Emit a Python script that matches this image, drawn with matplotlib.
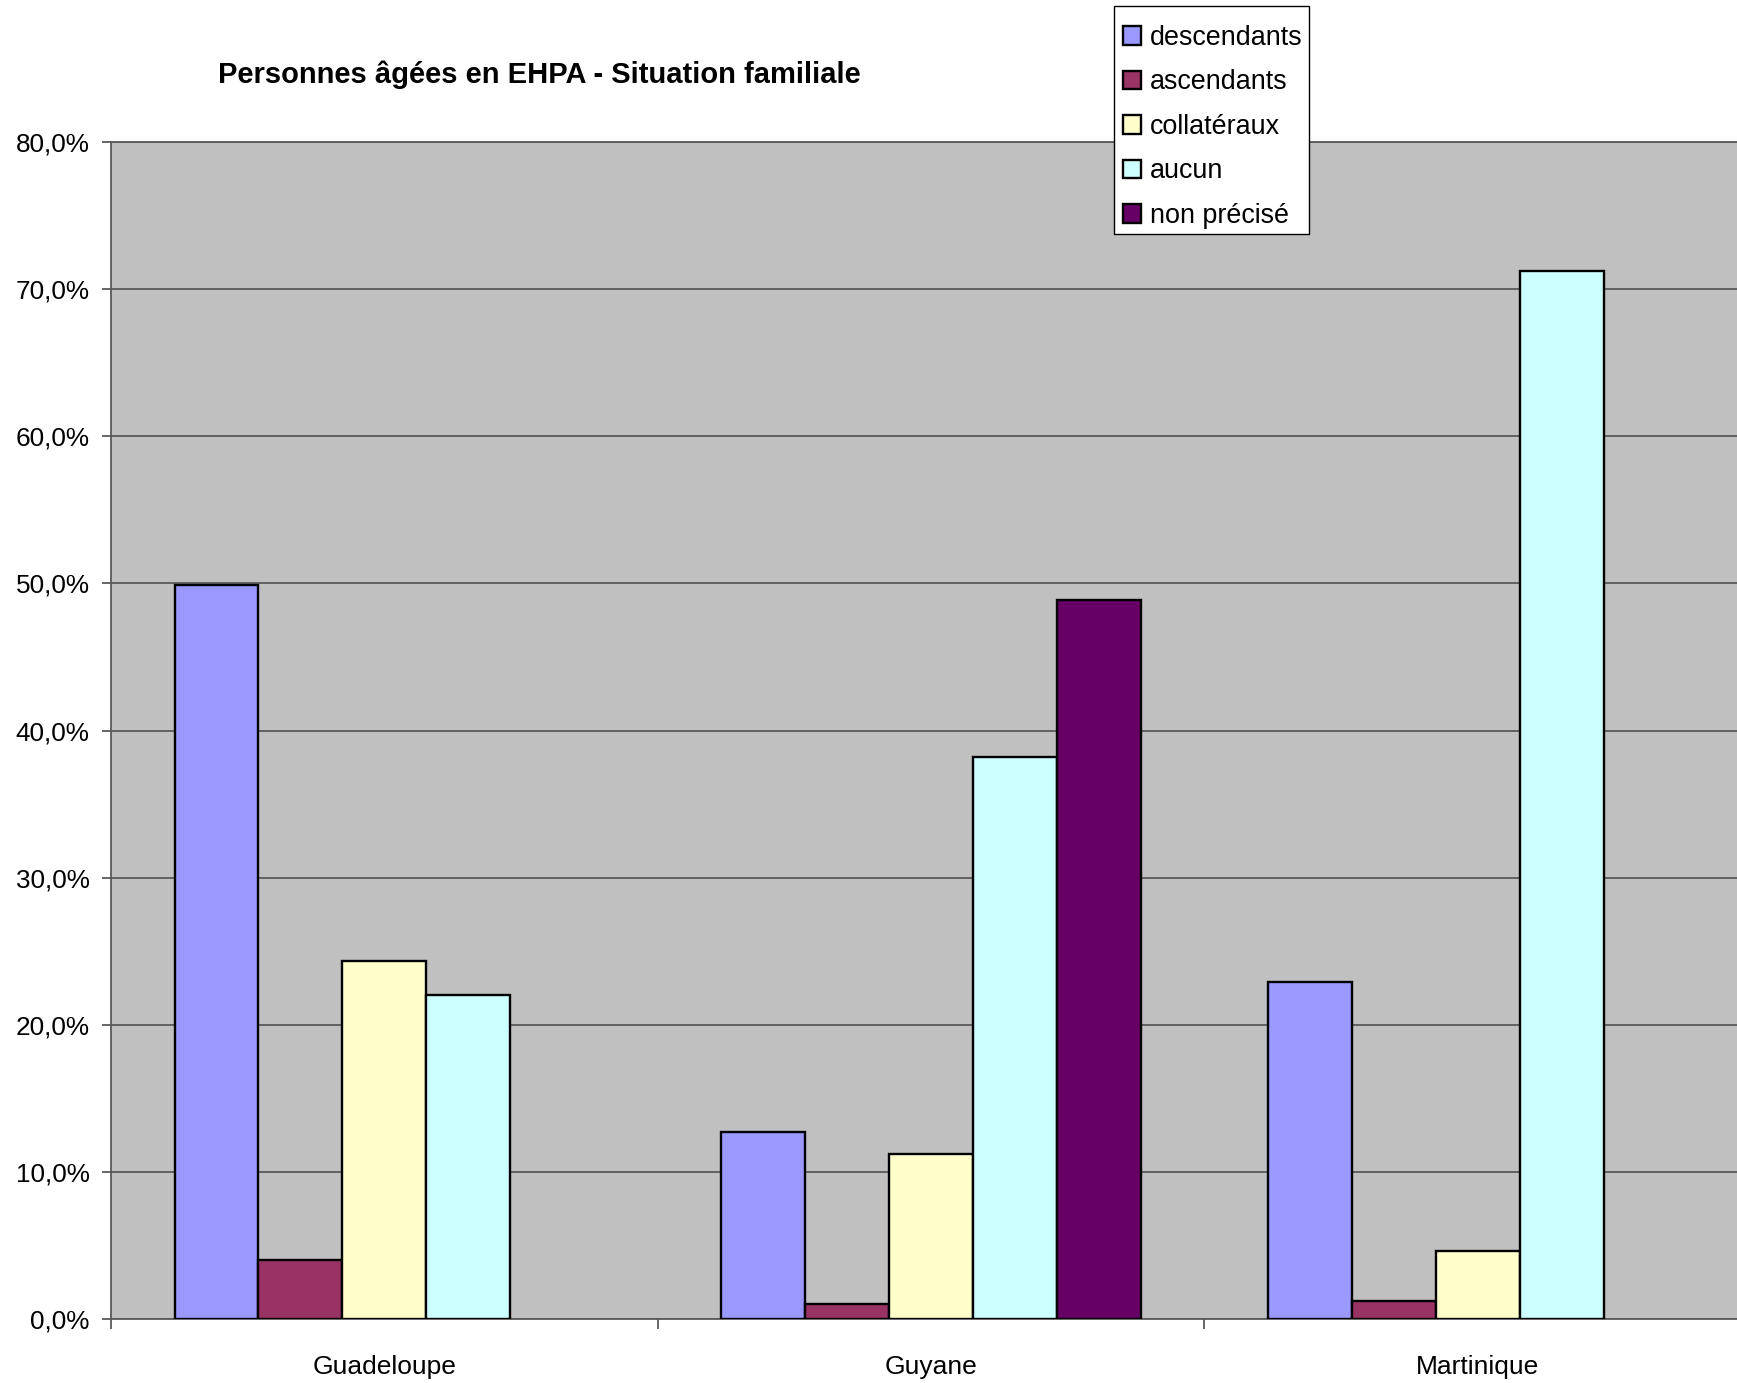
import numpy as np
import matplotlib.pyplot as plt
from matplotlib.patches import Rectangle
from matplotlib.ticker import FixedLocator, FuncFormatter

plt.rcParams['font.family'] = ['Liberation Sans', 'DejaVu Sans']

regions = ["Guadeloupe", "Guyane", "Martinique"]
series_names = ["descendants", "ascendants", "collatéraux", "aucun", "non précisé"]
descendants = [49.9, 12.7, 22.9]
ascendants = [4.0, 1.05, 1.2]
collateraux = [24.3, 11.2, 4.6]
aucun = [22.0, 38.2, 71.2]
non_precise = [0.0, 48.9, 0.0]
colors = ["#9999FF", "#993366", "#FFFFCC", "#CCFFFF", "#660066"]

values = [descendants, ascendants, collateraux, aucun, non_precise]

W, H = 1737, 1383
fig = plt.figure(figsize=(W / 100, H / 100), dpi=100)
ax = fig.add_axes([111 / W, 1 - 1319 / H, 1 - 111 / W, (1319 - 142) / H])
ax.set_facecolor("#C0C0C0")

centers = np.arange(len(regions)) + 0.5
bar_w = 76 / 495
for i, (name, vals, col) in enumerate(zip(series_names, values, colors)):
    x = centers + (i - 2) * bar_w
    v = np.array(vals) / 100
    keep = v > 0  # empty categories get no bar at all
    ax.bar(x[keep], v[keep], width=bar_w, color=col, edgecolor="black",
           linewidth=1.7, label=name, zorder=3)

ax.yaxis.set_major_locator(FixedLocator(np.arange(0, 0.81, 0.1)))
ax.yaxis.set_major_formatter(FuncFormatter(lambda v, p: f"{v*100:.1f}%".replace(".", ",")))
ax.grid(axis="y", color="#5a5a5a", linewidth=1.3, zorder=1)
ax.set_axisbelow(True)

ax.set_xticks(centers)
ax.set_xticklabels(regions)
ax.set_xticks([0, 1, 2, 3], minor=True)
# limits after the ticks, otherwise set_xticks widens them
ax.set_ylim(0, 0.8)
ax.set_xlim(0, (W - 111) / 546.7)
ax.tick_params(axis="x", which="major", length=0, pad=26, labelsize=19)
ax.tick_params(axis="x", which="minor", length=7.5, width=1.3, color="#5a5a5a")
ax.tick_params(axis="y", length=6.5, width=1.3, color="#5a5a5a", pad=9, labelsize=18.8)

for s in ["left", "bottom", "top"]:
    ax.spines[s].set_color("#5a5a5a")
    ax.spines[s].set_linewidth(1.3)
ax.spines["right"].set_visible(False)

fig.text(218 / W, 1 - 75 / H, "Personnes âgées en EHPA - Situation familiale",
         fontsize=21, fontweight="bold", va="center", ha="left")

# legend box drawn by hand so the padding can differ per side
fig.patches.append(Rectangle((1114 / W, 1 - 234 / H), 195 / W, 228 / H,
                             transform=fig.transFigure, facecolor="white",
                             edgecolor="black", linewidth=1.0, zorder=5))
handles, labels = ax.get_legend_handles_labels()
leg = fig.legend(handles, labels, loc="upper left",
                 bbox_to_anchor=(1123 / W, 1 - 25 / H), borderaxespad=0,
                 borderpad=0, fontsize=19.4, handlelength=0.68, handleheight=0.68,
                 handletextpad=0.33, labelspacing=0.685, frameon=False)
leg.set_zorder(6)

fig.savefig("out.png", dpi=100)
